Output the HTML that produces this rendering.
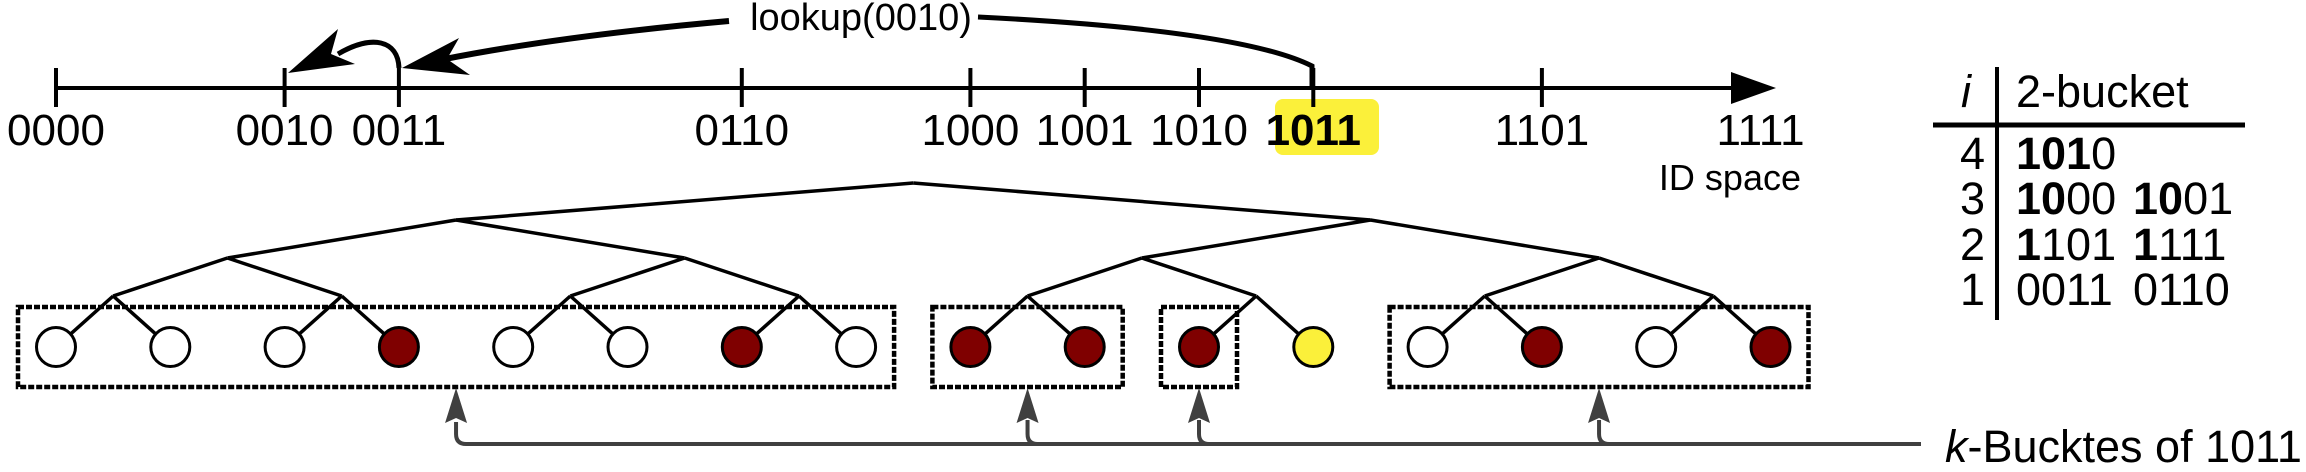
<!DOCTYPE html>
<html><head><meta charset="utf-8"><style>
html,body{margin:0;padding:0;background:#fff;}
svg{display:block;font-family:"Liberation Sans",Arial,sans-serif;}
</style></head><body>
<svg id="fig" width="2306" height="472" viewBox="0 0 2306 472" xmlns="http://www.w3.org/2000/svg">
<g id="axis">
<line x1="56" y1="88" x2="1740" y2="88" stroke="#000" stroke-width="4"/>
<polygon points="1776,88 1731,72 1731,104" fill="#000"/>
</g>
<rect x="1275" y="99" width="104" height="56" rx="8" fill="#fbf03a"/>
<g id="ticks"></g>
<text x="1801" y="190" font-size="36" text-anchor="end">ID space</text>
<text x="861" y="30" font-size="38" text-anchor="middle">lookup(0010)</text>
<path d="M978 17 Q1240 30 1312 66 L1312 88" fill="none" stroke="#000" stroke-width="5"/>
<path d="M729 21 Q560 36 440 60" fill="none" stroke="#000" stroke-width="6"/>
<polygon points="402,68 459,38 447,59 470,75" fill="#000"/>
<path d="M399 68 C398 40 372 34 338 54" fill="none" stroke="#000" stroke-width="5"/>
<polygon points="288,73 338,29 331,54 355,64" fill="#000"/>
<g id="tree"></g>
<g id="boxes"></g>
<g id="bottom"></g>
<text x="1945" y="462" font-size="45"><tspan font-style="italic">k</tspan>-Bucktes of 1011</text>
<g id="table">
<line x1="1997" y1="67" x2="1997" y2="320" stroke="#000" stroke-width="4"/>
<line x1="1933" y1="125" x2="2245" y2="125" stroke="#000" stroke-width="5"/>
<text x="1966" y="107" font-size="45" font-style="italic" text-anchor="middle">i</text>
<text x="2016" y="107" font-size="45">2-bucket</text>
</g>
</svg>
<script>
const NS="http://www.w3.org/2000/svg";
const leafIds=["0000","0001","0010","0011","0100","0101","0110","0111","1000","1001","1010","1011","1100","1101","1110","1111"];
const shownLabels=["0000","0010","0011","0110","1000","1001","1010","1011","1101","1111"];
const tickIds=["0000","0010","0011","0110","1000","1001","1010","1011","1101"];
const leafState=["w","w","w","r","w","w","r","w","r","r","r","y","w","r","w","r"];
const boxRanges=[[0,7],[8,9],[10,10],[12,15]];
const rowIdx=["4","3","2","1"];
const rowEntries=[[["101","0"]],[["10","00"],["10","01"]],[["1","101"],["1","111"]],[["","0011"],["","0110"]]];
const x0=56, dx=114.3;
const xOf=i=>x0+dx*i;
const idx=id=>leafIds.indexOf(id);
function mk(tag,attrs,parent){const e=document.createElementNS(NS,tag);for(const k in attrs)e.setAttribute(k,attrs[k]);parent.appendChild(e);return e;}
const ticks=document.getElementById('ticks');
tickIds.forEach(id=>{const x=xOf(idx(id));
 const t=mk('line',{x1:x,y1:68,x2:x,y2:107,stroke:'#000','stroke-width':4},ticks);
 
 });
shownLabels.forEach(id=>{let x=xOf(idx(id)); if(id==="1111")x-=10;
 const t=mk('text',{x:x,y:145,'font-size':44,'text-anchor':'middle','font-weight':id==="1011"?'bold':'normal'},ticks);
 t.textContent=id;
 
 });
const tree=document.getElementById('tree');
const levelY=[183,220,258,296];
const leafY=347, r=19.5;
function node(level,k){const span=16/Math.pow(2,level);return {x:xOf(k*span+(span-1)/2),y:levelY[level]};}
for(let lv=0;lv<4;lv++){const n=Math.pow(2,lv);for(let k=0;k<n;k++){const p=node(lv,k);
 for(let c=0;c<2;c++){const kk=2*k+c;let cx,cy;
  if(lv<3){const q=node(lv+1,kk);cx=q.x;cy=q.y;}
  else{const lx=xOf(kk);const ang=Math.atan2(leafY-p.y,lx-p.x);cx=lx-r*Math.cos(ang);cy=leafY-r*Math.sin(ang);}
  const e=mk('line',{x1:p.x,y1:p.y,x2:cx,y2:cy,stroke:'#000','stroke-width':3.5},tree);
  
  }}}
const col={w:'#fff',r:'#7f0000',y:'#fbf03a'};
leafIds.forEach((id,i)=>{const c=mk('circle',{cx:xOf(i),cy:leafY,r:r,fill:col[leafState[i]],stroke:'#000','stroke-width':3},tree);
 
 });
const boxes=document.getElementById('boxes');
boxRanges.forEach(b=>{const x1=xOf(b[0])-38,x2=xOf(b[1])+38;
 const e=mk('rect',{x:x1,y:307,width:x2-x1,height:80,fill:'none',stroke:'#000','stroke-width':4.5,'stroke-dasharray':'6 2'},boxes);
 
 });
const bottom=document.getElementById('bottom');
const xs=boxRanges.map(b=>(b[0]===b[1])?xOf(b[0]):(b[0]===0?xOf(3.5):(b[0]===8?xOf(8.5):xOf(13.5))));
const hl=mk('path',{d:`M${xs[0]} 422 L${xs[0]} 434 Q${xs[0]} 444 ${xs[0]+10} 444 L1921 444`,fill:'none',stroke:'#404040','stroke-width':4},bottom);


xs.forEach((x,i)=>{
 if(i>0){const p=mk('path',{d:`M${x} 420 L${x} 434 Q${x} 444 ${x+10} 444`,fill:'none',stroke:'#404040','stroke-width':4},bottom);
 
 }
 const a=mk('polygon',{points:`${x},388 ${x-11},423 ${x},418 ${x+11},423`,fill:'#404040'},bottom);
 
 });
const table=document.getElementById('table');
const rowY=[169,214,260,305];
rowIdx.forEach((n,i)=>{const t=mk('text',{x:1985,y:rowY[i],'font-size':45,'text-anchor':'end'},table);
 t.textContent=n;
 
 
 rowEntries[i].forEach((en,j)=>{const tt=mk('text',{x:j?2133:2016,y:rowY[i],'font-size':45},table);
  const b=mk('tspan',{'font-weight':'bold'},tt);b.textContent=en[0];
  const p=mk('tspan',{},tt);p.textContent=en[1];
  
  });});
</script>
</body></html>
